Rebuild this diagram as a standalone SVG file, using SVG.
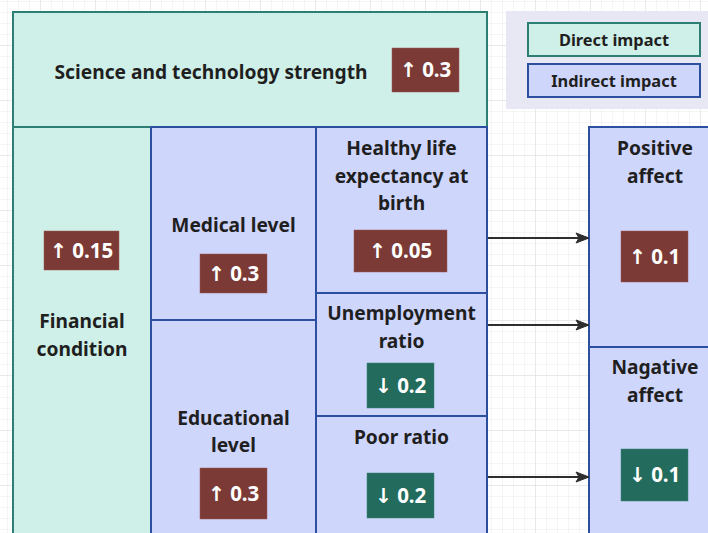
<svg xmlns="http://www.w3.org/2000/svg" width="708" height="533" viewBox="0 0 708 533">
  <style>
    .lbl { font-family: "Noto Sans", "Open Sans", "DejaVu Sans", sans-serif; font-weight: 700; font-size: 19.2px; fill: #1f1f1f; text-anchor: middle; }
    .leg { font-size: 16.4px; }
    .bv { font-family: "Noto Sans", "Open Sans", "DejaVu Sans", sans-serif; font-weight: 700; font-size: 20.5px; fill: #ffffff; text-anchor: middle; }
    .direct { fill: #cff0e8; stroke: #2d7f73; stroke-width: 2; }
    .indirect { fill: #cfd6fc; stroke: #2c4f9f; stroke-width: 2; }
    .up { fill: #7b3a35; stroke: #9a5a55; stroke-width: 0.5; }
    .down { fill: #236b5d; stroke: #3f8577; stroke-width: 0.5; }
    .conn { stroke: #2e2e2e; stroke-width: 1.8; fill: none; }
  </style>
  <defs>
    <pattern id="minor" width="11" height="11" patternUnits="userSpaceOnUse" x="7" y="1">
      <path d="M0 0H11M0 0V11" stroke="#ececec" stroke-width="1" fill="none"/>
    </pattern>
    <pattern id="major" width="55" height="55" patternUnits="userSpaceOnUse" x="40" y="45">
      <path d="M0 0H55M0 0V55" stroke="#dedede" stroke-width="1" fill="none"/>
    </pattern>
    <marker id="arrow" markerWidth="16" markerHeight="12" refX="14" refY="6" orient="auto" markerUnits="userSpaceOnUse">
      <path d="M1 1 L14 6 L1 11 L4 6 Z" fill="#2e2e2e" stroke="#2e2e2e" stroke-width="1" stroke-linejoin="miter"/>
    </marker>
  </defs>

  <!-- background grid -->
  <rect width="708" height="533" fill="#ffffff"/>
  <rect width="708" height="533" fill="url(#minor)"/>
  <rect width="708" height="533" fill="url(#major)"/>

  <!-- legend -->
  <g id="legend">
    <rect x="506" y="11" width="210" height="98" fill="#e8e8f4"/>
    <rect class="direct" x="528" y="23" width="172" height="33"/>
    <text class="lbl leg" x="614" y="46">Direct impact</text>
    <rect class="indirect" x="528" y="64" width="172" height="33"/>
    <text class="lbl leg" x="614" y="87">Indirect impact</text>
  </g>

  <!-- direct factors -->
  <g id="science">
    <rect class="direct" x="13" y="12" width="474" height="115"/>
    <text class="lbl" x="211" y="79">Science and technology strength</text>
    <rect class="up" x="392" y="48" width="67" height="44"/>
    <text class="bv" x="425.5" y="77">↑ 0.3</text>
  </g>

  <g id="financial">
    <rect class="direct" x="13" y="127" width="138" height="420"/>
    <rect class="up" x="44" y="231" width="75" height="39"/>
    <text class="bv" x="81.5" y="257.5">↑ 0.15</text>
    <text class="lbl" x="82" y="328">Financial</text>
    <text class="lbl" x="82" y="356">condition</text>
  </g>

  <!-- indirect factors -->
  <g id="medical">
    <rect class="indirect" x="151" y="127" width="165" height="193"/>
    <text class="lbl" x="233.5" y="232">Medical level</text>
    <rect class="up" x="200" y="254" width="67" height="39"/>
    <text class="bv" x="233.5" y="280.5">↑ 0.3</text>
  </g>

  <g id="educational">
    <rect class="indirect" x="151" y="320" width="165" height="230"/>
    <text class="lbl" x="233.5" y="425">Educational</text>
    <text class="lbl" x="233.5" y="452">level</text>
    <rect class="up" x="200" y="468" width="67" height="51"/>
    <text class="bv" x="233.5" y="500.5">↑ 0.3</text>
  </g>

  <g id="healthy">
    <rect class="indirect" x="316" y="127" width="171" height="166"/>
    <text class="lbl" x="401.5" y="155">Healthy life</text>
    <text class="lbl" x="401.5" y="183">expectancy at</text>
    <text class="lbl" x="401.5" y="210">birth</text>
    <rect class="up" x="354" y="230" width="93" height="42"/>
    <text class="bv" x="400.5" y="258">↑ 0.05</text>
  </g>

  <g id="unemployment">
    <rect class="indirect" x="316" y="293" width="171" height="123"/>
    <text class="lbl" x="401.5" y="320">Unemployment</text>
    <text class="lbl" x="401.5" y="348">ratio</text>
    <rect class="down" x="367" y="363" width="67" height="45"/>
    <text class="bv" x="400.5" y="392.5">↓ 0.2</text>
  </g>

  <g id="poor">
    <rect class="indirect" x="316" y="416" width="171" height="130"/>
    <text class="lbl" x="401.5" y="444">Poor ratio</text>
    <rect class="down" x="367" y="473" width="67" height="45"/>
    <text class="bv" x="400.5" y="502.5">↓ 0.2</text>
  </g>

  <!-- outcomes -->
  <g id="positive">
    <rect class="indirect" x="589" y="127" width="132" height="220"/>
    <text class="lbl" x="655" y="155">Positive</text>
    <text class="lbl" x="655" y="183">affect</text>
    <rect class="up" x="621" y="231" width="67" height="51"/>
    <text class="bv" x="654.5" y="263.5">↑ 0.1</text>
  </g>

  <g id="negative">
    <rect class="indirect" x="589" y="347" width="132" height="200"/>
    <text class="lbl" x="655" y="374">Nagative</text>
    <text class="lbl" x="655" y="402">affect</text>
    <rect class="down" x="621" y="449" width="67" height="52"/>
    <text class="bv" x="654.5" y="482">↓ 0.1</text>
  </g>

  <!-- connectors -->
  <g id="connectors">
    <line class="conn" x1="488" y1="238" x2="589" y2="238" marker-end="url(#arrow)"/>
    <line class="conn" x1="488" y1="325" x2="589" y2="325" marker-end="url(#arrow)"/>
    <line class="conn" x1="488" y1="477" x2="589" y2="477" marker-end="url(#arrow)"/>
  </g>
</svg>
